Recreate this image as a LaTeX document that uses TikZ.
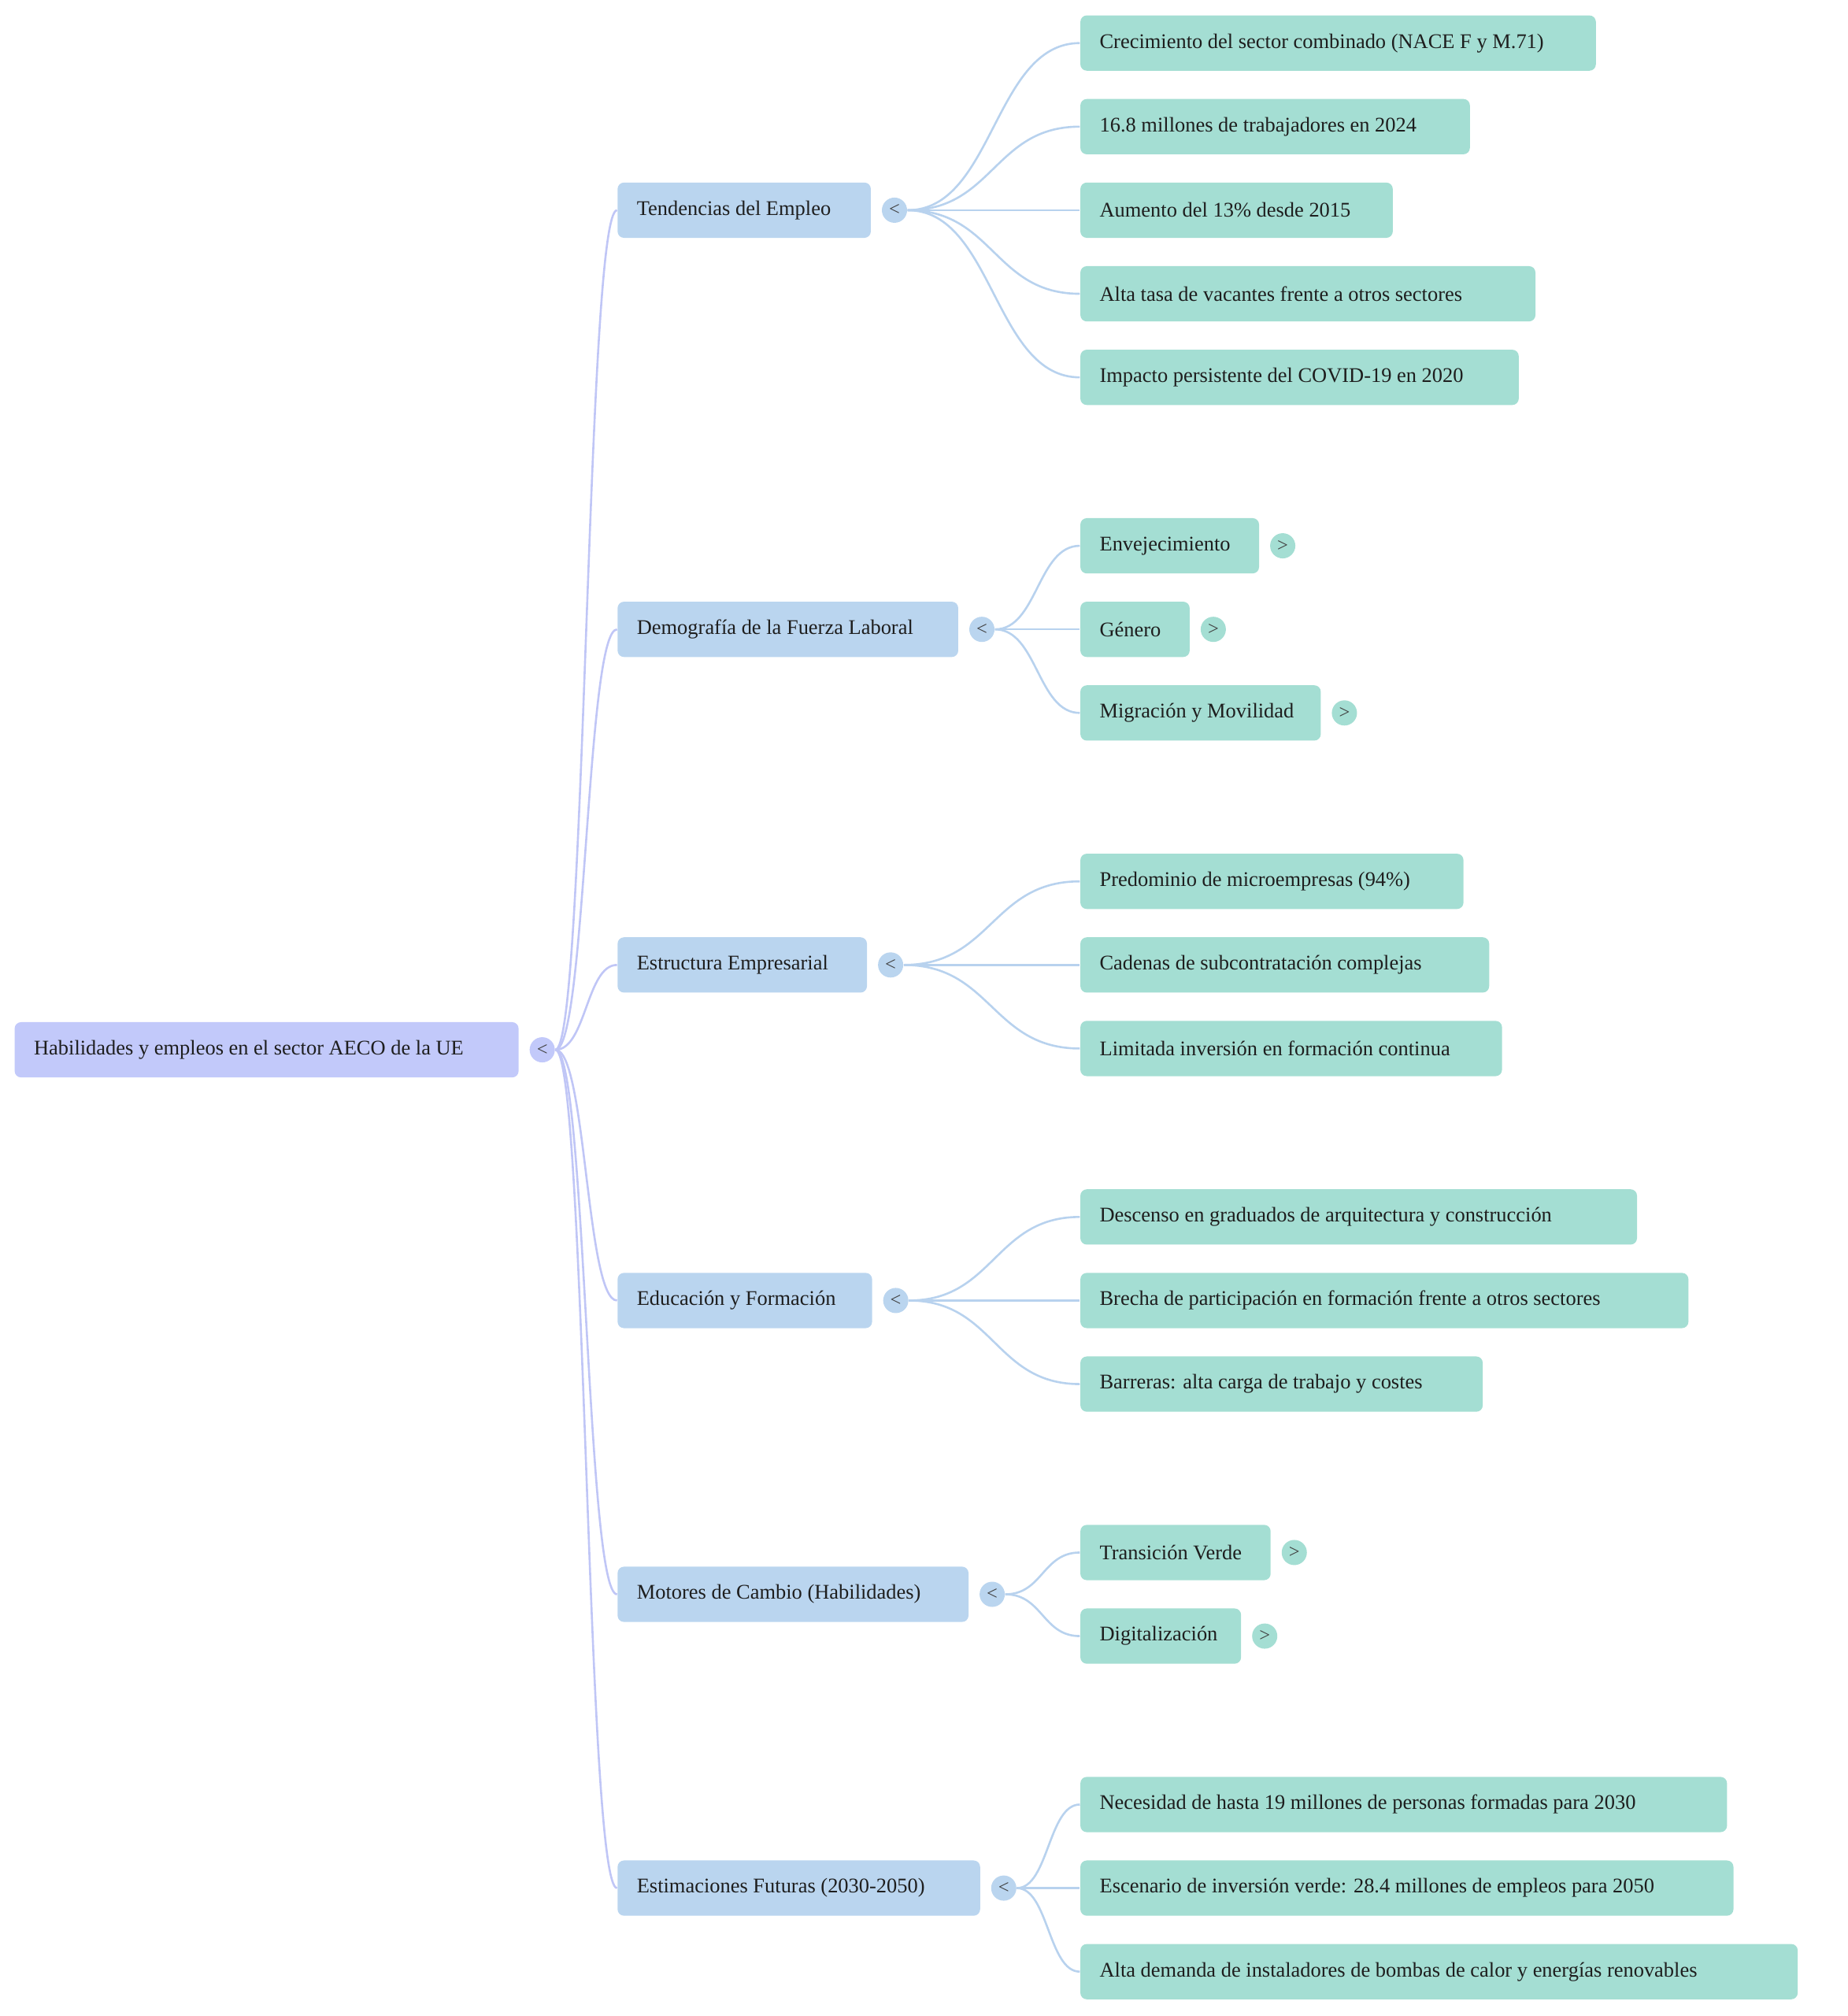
\documentclass[tikz,border=0pt]{standalone}
\usepackage{fontspec}
\setmainfont{Liberation Serif}
\usetikzlibrary{calc}
\definecolor{rootc}{RGB}{194,201,250}
\definecolor{lonec}{RGB}{186,213,239}
\definecolor{leafc}{RGB}{164,222,211}
\definecolor{rootln}{RGB}{192,198,246}
\definecolor{loneln}{RGB}{184,210,238}
\definecolor{txt}{RGB}{30,30,30}
\newcommand{\bx}[2]{\makebox[#1][l]{#2}}
\tikzset{
  box/.style={anchor=west, rounded corners=2.5pt, minimum height=21.5pt, inner xsep=7.5pt, inner ysep=0pt, font=\fontsize{8.1}{9.7}\selectfont, text=txt},
  rootbox/.style={box, fill=rootc},
  onebox/.style={box, fill=lonec},
  leafbox/.style={box, fill=leafc},
  tog/.style={circle, inner sep=0pt, minimum size=9.8pt, font=\fontsize{7.5}{8}\selectfont, text=txt!85},
  rl/.style={draw=rootln, line width=0.8pt},
  ll/.style={draw=loneln, line width=0.8pt}
}
\begin{document}
\begin{tikzpicture}[x=0.5pt,y=-0.5pt]
\useasboundingbox (0,0) rectangle (1437,1568);
% root
\node[rootbox] (r) at (11,816.5) {\bx{181pt}{Habilidades y empleos en el sector AECO de la UE}};
\node[tog, fill=rootc] (rt) at ([xshift=9pt]r.east) {\textless};
% level 1
\node[onebox] (a) at (480,163.5) {\bx{83.5pt}{Tendencias del Empleo}};
\node[onebox] (b) at (480,489.5) {\bx{117.5pt}{Demografía de la Fuerza Laboral}};
\node[onebox] (c) at (480,750.5) {\bx{82pt}{Estructura Empresarial}};
\node[onebox] (d) at (480,1011.5) {\bx{84pt}{Educación y Formación}};
\node[onebox] (e) at (480,1240) {\bx{121.5pt}{Motores de Cambio (Habilidades)}};
\node[onebox] (f) at (480,1468.5) {\bx{126pt}{Estimaciones Futuras (2030-2050)}};
\foreach \n in {a,b,c,d,e,f}{
  \node[tog, fill=lonec] (\n t) at ([xshift=9pt]\n.east) {\textless};
}
% leaves
\node[leafbox] (a1) at (840,33.5) {\bx{185.5pt}{Crecimiento del sector combinado (NACE F y M.71)}};
\node[leafbox] (a2) at (840,98.5) {\bx{136.5pt}{16.8 millones de trabajadores en 2024}};
\node[leafbox] (a3) at (840,163.5) {\bx{106.5pt}{Aumento del 13\% desde 2015}};
\node[leafbox] (a4) at (840,228.5) {\bx{162pt}{Alta tasa de vacantes frente a otros sectores}};
\node[leafbox] (a5) at (840,293.5) {\bx{155.5pt}{Impacto persistente del COVID-19 en 2020}};
\node[leafbox] (b1) at (840,424.5) {\bx{54.5pt}{Envejecimiento}};
\node[leafbox] (b2) at (840,489.5) {\bx{27.5pt}{Género}};
\node[leafbox] (b3) at (840,554.5) {\bx{78.5pt}{Migración y Movilidad}};
\node[leafbox] (c1) at (840,685.5) {\bx{134pt}{Predominio de microempresas (94\%)}};
\node[leafbox] (c2) at (840,750.5) {\bx{144pt}{Cadenas de subcontratación complejas}};
\node[leafbox] (c3) at (840,815.5) {\bx{149pt}{Limitada inversión en formación continua}};
\node[leafbox] (d1) at (840,946.5) {\bx{201.5pt}{Descenso en graduados de arquitectura y construcción}};
\node[leafbox] (d2) at (840,1011.5) {\bx{221.5pt}{Brecha de participación en formación frente a otros sectores}};
\node[leafbox] (d3) at (840,1076.5) {\bx{141.5pt}{Barreras: alta carga de trabajo y costes}};
\node[leafbox] (e1) at (840,1207.5) {\bx{59pt}{Transición Verde}};
\node[leafbox] (e2) at (840,1272.5) {\bx{47.5pt}{Digitalización}};
\node[leafbox] (f1) at (840,1403.5) {\bx{236.5pt}{Necesidad de hasta 19 millones de personas formadas para 2030}};
\node[leafbox] (f2) at (840,1468.5) {\bx{239pt}{Escenario de inversión verde: 28.4 millones de empleos para 2050}};
\node[leafbox] (f3) at (840,1533.5) {\bx{264pt}{Alta demanda de instaladores de bombas de calor y energías renovables}};
\foreach \n in {b1,b2,b3,e1,e2}{
  \node[tog, fill=leafc] (\n t) at ([xshift=9pt]\n.east) {\textgreater};
}
% connectors root -> level 1
\foreach \n in {a,b,c,d,e,f}{
  \draw[rl] (rt.east) .. controls ($(rt.east)!0.5!(\n.west |- rt.east)$) and ($(rt.east |- \n.west)!0.5!(\n.west)$) .. (\n.west);
}
% level 1 -> leaves
\foreach \p/\cs in {a/{a1,a2,a3,a4,a5}, b/{b1,b2,b3}, c/{c1,c2,c3}, d/{d1,d2,d3}, e/{e1,e2}, f/{f1,f2,f3}}{
  \foreach \q in \cs {
    \draw[ll] (\p t.east) .. controls ($(\p t.east)!0.5!(\q.west |- \p t.east)$) and ($(\p t.east |- \q.west)!0.5!(\q.west)$) .. (\q.west);
  }
}
\end{tikzpicture}
\end{document}
